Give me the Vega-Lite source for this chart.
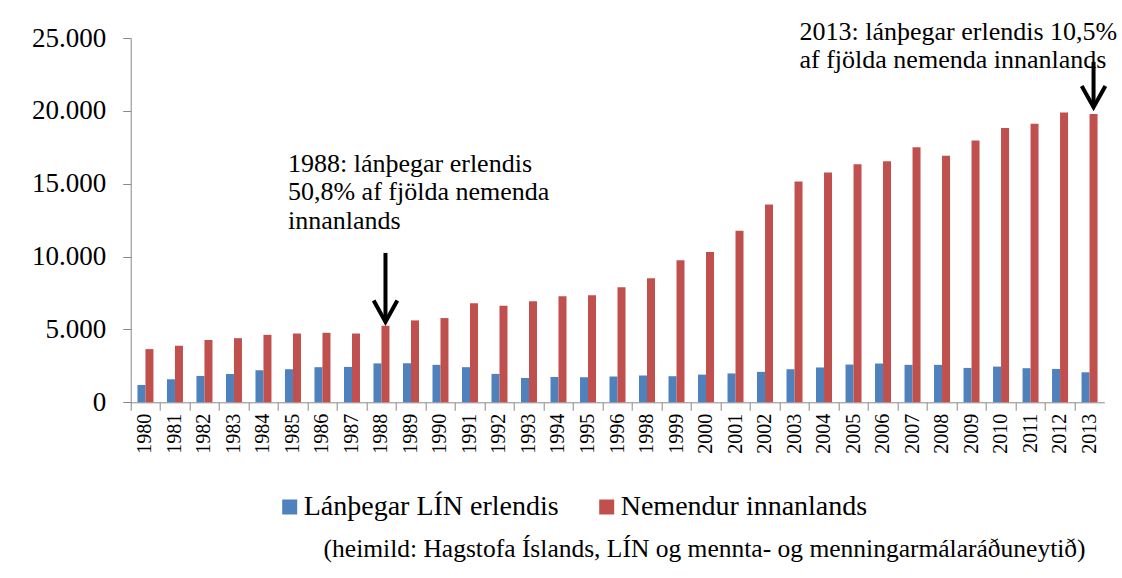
{
  "$schema": "https://vega.github.io/schema/vega-lite/v6.json",
  "width": 973.6,
  "height": 364.3,
  "autosize": {"type": "none"},
  "padding": {"left": 130.7, "top": 38, "right": 17.7, "bottom": 175.7},
  "background": "white",
  "config": {"view": {"stroke": null}, "font": "Liberation Serif"},
  "datasets": {
    "main": [
      {"year": "1980", "series": "Lánþegar LÍN erlendis", "value": 1190},
      {"year": "1981", "series": "Lánþegar LÍN erlendis", "value": 1580},
      {"year": "1982", "series": "Lánþegar LÍN erlendis", "value": 1810},
      {"year": "1983", "series": "Lánþegar LÍN erlendis", "value": 1950},
      {"year": "1984", "series": "Lánþegar LÍN erlendis", "value": 2200},
      {"year": "1985", "series": "Lánþegar LÍN erlendis", "value": 2270},
      {"year": "1986", "series": "Lánþegar LÍN erlendis", "value": 2410},
      {"year": "1987", "series": "Lánþegar LÍN erlendis", "value": 2430},
      {"year": "1988", "series": "Lánþegar LÍN erlendis", "value": 2670},
      {"year": "1989", "series": "Lánþegar LÍN erlendis", "value": 2680},
      {"year": "1990", "series": "Lánþegar LÍN erlendis", "value": 2570},
      {"year": "1991", "series": "Lánþegar LÍN erlendis", "value": 2410},
      {"year": "1992", "series": "Lánþegar LÍN erlendis", "value": 1950},
      {"year": "1993", "series": "Lánþegar LÍN erlendis", "value": 1670},
      {"year": "1994", "series": "Lánþegar LÍN erlendis", "value": 1740},
      {"year": "1995", "series": "Lánþegar LÍN erlendis", "value": 1720},
      {"year": "1996", "series": "Lánþegar LÍN erlendis", "value": 1770},
      {"year": "1998", "series": "Lánþegar LÍN erlendis", "value": 1840},
      {"year": "1999", "series": "Lánþegar LÍN erlendis", "value": 1790},
      {"year": "2000", "series": "Lánþegar LÍN erlendis", "value": 1900},
      {"year": "2001", "series": "Lánþegar LÍN erlendis", "value": 1980},
      {"year": "2002", "series": "Lánþegar LÍN erlendis", "value": 2090},
      {"year": "2003", "series": "Lánþegar LÍN erlendis", "value": 2270},
      {"year": "2004", "series": "Lánþegar LÍN erlendis", "value": 2390},
      {"year": "2005", "series": "Lánþegar LÍN erlendis", "value": 2590},
      {"year": "2006", "series": "Lánþegar LÍN erlendis", "value": 2660},
      {"year": "2007", "series": "Lánþegar LÍN erlendis", "value": 2570},
      {"year": "2008", "series": "Lánþegar LÍN erlendis", "value": 2570},
      {"year": "2009", "series": "Lánþegar LÍN erlendis", "value": 2360},
      {"year": "2010", "series": "Lánþegar LÍN erlendis", "value": 2450},
      {"year": "2011", "series": "Lánþegar LÍN erlendis", "value": 2340},
      {"year": "2012", "series": "Lánþegar LÍN erlendis", "value": 2290},
      {"year": "2013", "series": "Lánþegar LÍN erlendis", "value": 2060},
      {"year": "1980", "series": "Nemendur innanlands", "value": 3650},
      {"year": "1981", "series": "Nemendur innanlands", "value": 3880},
      {"year": "1982", "series": "Nemendur innanlands", "value": 4270},
      {"year": "1983", "series": "Nemendur innanlands", "value": 4400},
      {"year": "1984", "series": "Nemendur innanlands", "value": 4630},
      {"year": "1985", "series": "Nemendur innanlands", "value": 4720},
      {"year": "1986", "series": "Nemendur innanlands", "value": 4770},
      {"year": "1987", "series": "Nemendur innanlands", "value": 4720},
      {"year": "1988", "series": "Nemendur innanlands", "value": 5250},
      {"year": "1989", "series": "Nemendur innanlands", "value": 5620},
      {"year": "1990", "series": "Nemendur innanlands", "value": 5780},
      {"year": "1991", "series": "Nemendur innanlands", "value": 6790},
      {"year": "1992", "series": "Nemendur innanlands", "value": 6620},
      {"year": "1993", "series": "Nemendur innanlands", "value": 6930},
      {"year": "1994", "series": "Nemendur innanlands", "value": 7280},
      {"year": "1995", "series": "Nemendur innanlands", "value": 7340},
      {"year": "1996", "series": "Nemendur innanlands", "value": 7890},
      {"year": "1998", "series": "Nemendur innanlands", "value": 8520},
      {"year": "1999", "series": "Nemendur innanlands", "value": 9750},
      {"year": "2000", "series": "Nemendur innanlands", "value": 10320},
      {"year": "2001", "series": "Nemendur innanlands", "value": 11780},
      {"year": "2002", "series": "Nemendur innanlands", "value": 13580},
      {"year": "2003", "series": "Nemendur innanlands", "value": 15150},
      {"year": "2004", "series": "Nemendur innanlands", "value": 15770},
      {"year": "2005", "series": "Nemendur innanlands", "value": 16340},
      {"year": "2006", "series": "Nemendur innanlands", "value": 16550},
      {"year": "2007", "series": "Nemendur innanlands", "value": 17500},
      {"year": "2008", "series": "Nemendur innanlands", "value": 16920},
      {"year": "2009", "series": "Nemendur innanlands", "value": 17960},
      {"year": "2010", "series": "Nemendur innanlands", "value": 18820},
      {"year": "2011", "series": "Nemendur innanlands", "value": 19110},
      {"year": "2012", "series": "Nemendur innanlands", "value": 19880},
      {"year": "2013", "series": "Nemendur innanlands", "value": 19780}
    ],
    "arrows": [
      {"year": "1988", "top": 10250, "tip": 5520},
      {"year": "2013", "top": 23360, "tip": 20250}
    ],
    "note1988": [
      {"year": "1985", "y": 15820, "label": "1988: lánþegar erlendis\n50,8% af fjölda nemenda\ninnanlands"}
    ],
    "note2013": [
      {"year": "2003", "y": 24870, "label": "2013: lánþegar erlendis 10,5%\naf fjölda nemenda innanlands"}
    ],
    "source": [
      {"year": "2013", "y": -10620, "label": "(heimild: Hagstofa Íslands, LÍN og mennta- og menningarmálaráðuneytið)"}
    ]
  },
  "layer": [
    {
      "data": {"name": "main"},
      "mark": {"type": "bar"},
      "encoding": {
        "x": {
          "field": "year", "type": "nominal",
          "scale": {"domain": ["1980","1981","1982","1983","1984","1985","1986","1987","1988","1989","1990","1991","1992","1993","1994","1995","1996","1998","1999","2000","2001","2002","2003","2004","2005","2006","2007","2008","2009","2010","2011","2012","2013"], "paddingInner": 0, "paddingOuter": 0},
          "axis": {
            "title": null, "labelAngle": -90, "labelFont": "Liberation Serif", "labelFontSize": 20, "labelColor": "black",
            "tickSize": 8, "tickColor": "#898989", "domainColor": "#898989", "bandPosition": 0, "labelPadding": 3
          }
        },
        "xOffset": {
          "field": "series", "type": "nominal",
          "scale": {"domain": ["Lánþegar LÍN erlendis", "Nemendur innanlands"], "paddingInner": 0, "paddingOuter": 0.844}
        },
        "y": {
          "field": "value", "type": "quantitative",
          "scale": {"domain": [0, 25000], "nice": false},
          "axis": {
            "title": null, "grid": false, "values": [0, 5000, 10000, 15000, 20000, 25000],
            "labelExpr": "replace(format(datum.value, ','), ',', '.')",
            "labelFont": "Liberation Serif", "labelFontSize": 27, "labelColor": "black",
            "tickSize": 8, "tickColor": "#898989", "domainColor": "#898989", "labelPadding": 17
          }
        },
        "color": {
          "field": "series", "type": "nominal",
          "scale": {"domain": ["Lánþegar LÍN erlendis", "Nemendur innanlands"], "range": ["#4F81BD", "#C0504D"]},
          "legend": {
            "title": null, "orient": "none", "direction": "horizontal", "legendX": 145, "legendY": 455,
            "symbolType": "square", "symbolSize": 225, "symbolStrokeWidth": 0, "symbolOpacity": 1,
            "labelFont": "Liberation Serif", "labelFontSize": 28, "labelColor": "black", "labelOffset": 0,
            "columnPadding": 34, "labelLimit": 400
          }
        }
      }
    },
    {
      "data": {"name": "arrows"},
      "mark": {"type": "rule", "strokeWidth": 4, "color": "black"},
      "encoding": {
        "x": {"field": "year", "type": "nominal"},
        "xOffset": {"datum": "Nemendur innanlands"},
        "y": {"field": "top", "type": "quantitative", "scale": {"domain": [0, 25000], "nice": false}},
        "y2": {"field": "tip"}
      }
    },
    {
      "data": {"name": "arrows"},
      "mark": {"type": "point", "shape": "M-1,-1.8L0,0L1,-1.8", "size": 560, "filled": false, "stroke": "black", "strokeWidth": 4, "strokeJoin": "miter", "opacity": 1},
      "encoding": {
        "x": {"field": "year", "type": "nominal"},
        "xOffset": {"datum": "Nemendur innanlands"},
        "y": {"field": "tip", "type": "quantitative", "scale": {"domain": [0, 25000], "nice": false}}
      }
    },
    {
      "data": {"name": "note1988"},
      "mark": {"type": "text", "align": "left", "baseline": "alphabetic", "dx": -5, "font": "Liberation Serif", "fontSize": 26, "lineHeight": 28.5, "lineBreak": "\n", "color": "black"},
      "encoding": {
        "x": {"field": "year", "type": "nominal"},
        "y": {"field": "y", "type": "quantitative", "scale": {"domain": [0, 25000], "nice": false}},
        "text": {"field": "label"}
      }
    },
    {
      "data": {"name": "note2013"},
      "mark": {"type": "text", "align": "left", "baseline": "alphabetic", "dx": 5, "font": "Liberation Serif", "fontSize": 26, "lineHeight": 28, "lineBreak": "\n", "color": "black"},
      "encoding": {
        "x": {"field": "year", "type": "nominal"},
        "y": {"field": "y", "type": "quantitative", "scale": {"domain": [0, 25000], "nice": false}},
        "text": {"field": "label"}
      }
    },
    {
      "data": {"name": "source"},
      "mark": {"type": "text", "align": "right", "baseline": "alphabetic", "dx": -4, "font": "Liberation Serif", "fontSize": 25.5, "color": "black"},
      "encoding": {
        "x": {"field": "year", "type": "nominal"},
        "y": {"field": "y", "type": "quantitative", "scale": {"domain": [0, 25000], "nice": false}},
        "text": {"field": "label"}
      }
    }
  ]
}
